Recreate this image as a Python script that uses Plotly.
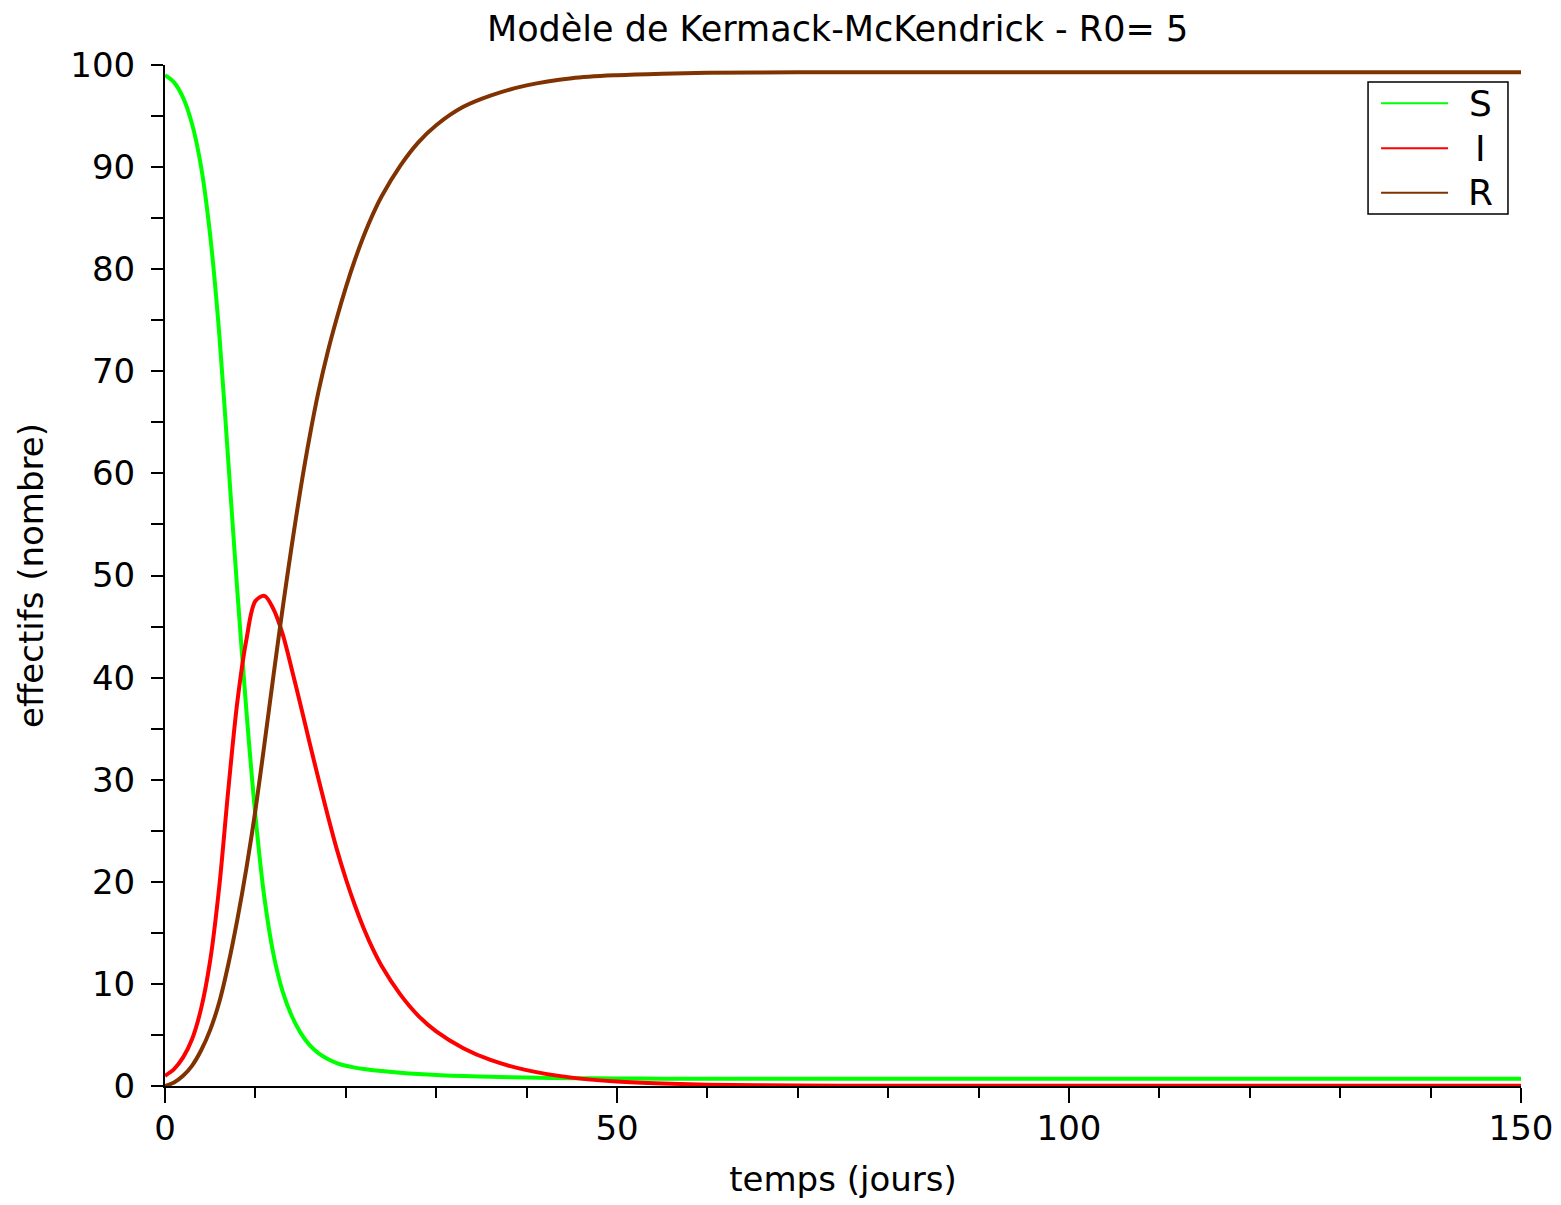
import plotly.graph_objects as go

# ---- data ----
temps = [0, 1, 2, 3, 4, 5, 6, 7, 8, 9, 10, 11, 12, 13, 14, 15, 16, 17, 18, 19, 20,
         21, 22, 23, 24, 26, 28, 30, 33, 36, 40, 45, 50, 55, 60, 70, 80, 90, 100, 120, 150]

S = [99.0, 98.3, 96.8, 94.2, 90.0, 83.3, 73.7, 61.2, 48.5, 36.8, 26.5,
     18.4, 12.9, 9.3, 6.9, 5.2, 4.0, 3.2, 2.65, 2.25, 1.98,
     1.8, 1.66, 1.55, 1.46, 1.3, 1.17, 1.07, 0.97, 0.9, 0.83, 0.77, 0.74, 0.72, 0.71,
     0.7, 0.7, 0.7, 0.7, 0.7, 0.7]

I = [1.0, 1.65, 2.8, 4.6, 7.6, 12.3, 19.5, 29.0, 37.6, 43.7, 47.5,
     48.0, 46.7, 44.3, 40.9, 37.3, 33.6, 30.0, 26.5, 23.2, 20.3,
     17.7, 15.4, 13.4, 11.7, 9.0, 6.9, 5.35, 3.7, 2.55, 1.55, 0.82, 0.44, 0.24, 0.13,
     0.05, 0.03, 0.02, 0.02, 0.02, 0.02]

R = [0.0, 0.35, 1.0, 2.0, 3.5, 5.5, 8.2, 11.9, 16.3, 21.3, 27.0,
     33.5, 40.2, 46.7, 52.8, 58.5, 63.6, 68.1, 71.9, 75.2, 78.2,
     80.9, 83.3, 85.4, 87.2, 90.1, 92.4, 94.1, 95.9, 97.0, 98.0, 98.7, 99.0, 99.15, 99.23,
     99.28, 99.3, 99.3, 99.3, 99.3, 99.3]

series_names = ["S", "I", "R"]
series_values = [S, I, R]
series_colors = ["#00ff00", "#ff0000", "#803300"]

title_text = "Modèle de Kermack-McKendrick - R0= 5"
x_title = "temps (jours)"
y_title = "effectifs (nombre)"

FONT = "DejaVu Sans"
W, H = 1553, 1197  # page body has an 8 px margin

fig = go.Figure()
for name, vals, col in zip(series_names, series_values, series_colors):
    fig.add_trace(go.Scatter(
        x=temps, y=vals, mode="lines", name=name,
        line=dict(color=col, width=4, shape="spline", smoothing=0.9),
        showlegend=False,
    ))

# manual legend box (Scilab style)
leg_x0, leg_x1 = 0.8872, 0.9904
leg_y0, leg_y1 = 0.854, 0.9834
fig.add_shape(type="rect", xref="paper", yref="paper",
              x0=leg_x0, x1=leg_x1, y0=leg_y0, y1=leg_y1,
              line=dict(color="black", width=1.5), fillcolor="white", layer="above")
leg_line_y = [0.9625, 0.9184, 0.8749]
for name, col, ly in zip(series_names, series_colors, leg_line_y):
    fig.add_shape(type="line", xref="paper", yref="paper",
                  x0=0.8968, x1=0.9462, y0=ly, y1=ly,
                  line=dict(color=col, width=2), layer="above")
    fig.add_annotation(xref="paper", yref="paper", x=0.9705, y=ly,
                       text=name, showarrow=False, xanchor="center", yanchor="middle",
                       font=dict(family=FONT, size=36, color="black"))

fig.update_layout(
    width=W, height=H,
    margin=dict(l=157, r=40, t=57, b=119, autoexpand=False),
    paper_bgcolor="white", plot_bgcolor="white",
    font=dict(family=FONT, size=34, color="black"),
    title=dict(text=title_text, x=0.496, xref="paper", xanchor="center",
               y=1 - 21 / H, yref="container", yanchor="middle",
               font=dict(family=FONT, size=35, color="black"), automargin=False),
    showlegend=False,
)

fig.update_xaxes(
    range=[0, 150], showgrid=False, zeroline=False, automargin=False,
    showline=True, linecolor="black", linewidth=2, mirror=False,
    ticks="outside", tickmode="linear", tick0=0, dtick=50, ticklen=15, tickwidth=1.5,
    tickcolor="black", ticklabelstandoff=-4,
    minor=dict(ticks="outside", dtick=10, ticklen=10, tickwidth=1.5, tickcolor="black"),
    tickfont=dict(family=FONT, size=34),
    title=dict(text=x_title, font=dict(family=FONT, size=34), standoff=20),
)
fig.update_yaxes(
    range=[0, 100], showgrid=False, zeroline=False, automargin=False,
    showline=True, linecolor="black", linewidth=2, mirror=False,
    ticks="outside", tickmode="linear", tick0=0, dtick=10, ticklen=12, tickwidth=1.5,
    tickcolor="black", ticklabelstandoff=9,
    minor=dict(ticks="outside", dtick=5, ticklen=12, tickwidth=1.5, tickcolor="black"),
    tickfont=dict(family=FONT, size=34),
    title=dict(text=y_title, font=dict(family=FONT, size=34), standoff=16),
)

fig.write_html("out.html")
